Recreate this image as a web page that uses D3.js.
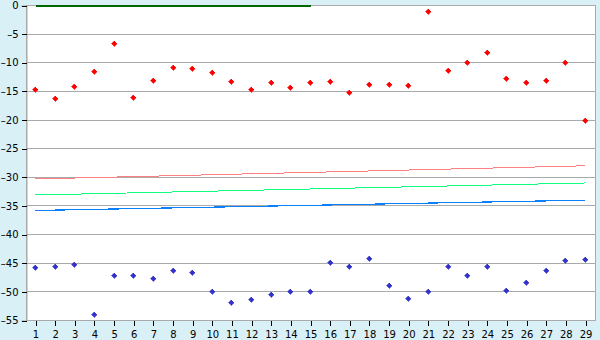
<!DOCTYPE html>
<html>
<head>
<meta charset="utf-8">
<script src="https://cdn.jsdelivr.net/npm/d3@7"></script>
<style>
	body { margin: 0; background: #d9f0f7; }
	svg { display: block; }
</style>
</head>
<body>
<div id="chart"></div>
<script>
const width = 600;
const height = 340;

// x categories 1..29
const xValues = d3.range(1, 30);
const yTicks = [0, -5, -10, -15, -20, -25, -30, -35, -40, -45, -50, -55];

const redPoints = [-14.7, -16.3, -14.2, -11.5, -6.6, -16.1, -13.1, -10.8, -11.0, -11.7,
	-13.2, -14.7, -13.5, -14.3, -13.5, -13.3, -15.2, -13.8, -13.8, -14.0,
	-1.05, -11.4, -10.0, -8.2, -12.8, -13.5, -13.1, -10.0, -20.0];

const bluePoints = [-45.8, -45.6, -45.3, -54.0, -47.2, -47.2, -47.7, -46.2, -46.7, -50.0,
	-51.9, -51.4, -50.5, -50.0, -50.0, -44.9, -45.6, -44.2, -48.9, -51.2,
	-50.0, -45.6, -47.2, -45.6, -49.8, -48.4, -46.3, -44.6, -44.4];

// straight lines: [x start, y start, x end, y end]
const greenTop = [1, 0, 15, 0];
const redLine = [1, -30.2, 29, -27.9];
const greenLine = [1, -33.0, 29, -30.9];
const blueLine = [1, -35.7, 29, -33.9];

const plot = { left: 26, right: 595, top: 5, bottom: 320 };

const svg = d3.select("#chart")
	.append("svg")
	.attr("width", width)
	.attr("height", height)
	.style("font-family", "DejaVu Sans, sans-serif")
	.style("font-size", "10px");

svg.append("rect")
	.attr("width", width)
	.attr("height", height)
	.attr("fill", "#d9f0f7");

const x = d3.scaleLinear().domain([1, 29]).range([35.5, 585.5]);
const y = d3.scaleLinear().domain([0, -55]).range([plot.top + 0.5, plot.bottom + 0.5]);

// plot area
svg.append("rect")
	.attr("x", plot.left + 0.5)
	.attr("y", plot.top + 0.5)
	.attr("width", plot.right - plot.left)
	.attr("height", plot.bottom - plot.top)
	.attr("fill", "white")
	.attr("stroke", "#aaaaaa")
	.attr("shape-rendering", "crispEdges");

// gridlines
svg.append("g")
	.selectAll("line")
	.data(yTicks)
	.enter()
	.append("line")
	.attr("x1", plot.left)
	.attr("x2", plot.right)
	.attr("y1", d => Math.round(y(d) - 0.5) + 0.5)
	.attr("y2", d => Math.round(y(d) - 0.5) + 0.5)
	.attr("stroke", "#aaaaaa")
	.attr("shape-rendering", "crispEdges");

const fmt = d => (d < 0 ? "\u2013" + Math.abs(d) : "" + d);

// y axis
const yAxis = svg.append("g")
	.attr("transform", "translate(" + (plot.left + 0.5) + ",0)")
	.call(d3.axisLeft(y).tickValues(yTicks).tickFormat(fmt).tickSize(5).tickPadding(3));
yAxis.select(".domain").attr("stroke", "#aaaaaa");
yAxis.selectAll(".tick line").attr("stroke", "#000").attr("shape-rendering", "crispEdges");
yAxis.selectAll("text").attr("fill", "#000").style("font-size", "10px").style("font-family", "DejaVu Sans, sans-serif");

// x axis
const xAxis = svg.append("g")
	.attr("transform", "translate(0," + (plot.bottom + 0.5) + ")")
	.call(d3.axisBottom(x).tickValues(xValues).tickFormat(d => d).tickSize(5).tickPadding(5));
xAxis.select(".domain").remove();
xAxis.selectAll(".tick line").attr("stroke", "#000").attr("shape-rendering", "crispEdges");
xAxis.selectAll("text").attr("fill", "#000").style("font-size", "10px").style("font-family", "DejaVu Sans, sans-serif");

// trend lines (no antialias, gives the stepped look)
const lines = [
	{ v: redLine, color: "#ff8080", w: 1 },
	{ v: greenLine, color: "#10ff80", w: 1 },
	{ v: blueLine, color: "#0a80ff", w: 1.2 },
	{ v: greenTop, color: "#006600", w: 2.5 }
];

svg.append("g")
	.selectAll("line")
	.data(lines)
	.enter()
	.append("line")
	.attr("x1", d => x(d.v[0]))
	.attr("y1", d => y(d.v[1]) + 0.5)
	.attr("x2", d => x(d.v[2]))
	.attr("y2", d => y(d.v[3]) + 0.5)
	.attr("stroke", d => d.color)
	.attr("stroke-width", d => d.w)
	.attr("shape-rendering", "crispEdges");

// small diamond marker
const marker = "M-0.5,-2.5h1v1h1v1h1v1h-1v1h-1v1h-1v-1h-1v-1h-1v-1h1v-1h1z";

function drawPoints(vals, color) {
	svg.append("g")
		.selectAll("path")
		.data(vals)
		.enter()
		.append("path")
		.attr("d", marker)
		.attr("transform", (d, i) => "translate(" + Math.floor(x(xValues[i])) + "," + (Math.floor(y(d)) + 0.5) + ")")
		.attr("fill", color)
		.attr("stroke", color)
		.attr("stroke-width", 0.6)
		.attr("shape-rendering", "crispEdges");
}

drawPoints(redPoints, "#ff0000");
drawPoints(bluePoints, "#3333cc");
</script>
</body>
</html>
